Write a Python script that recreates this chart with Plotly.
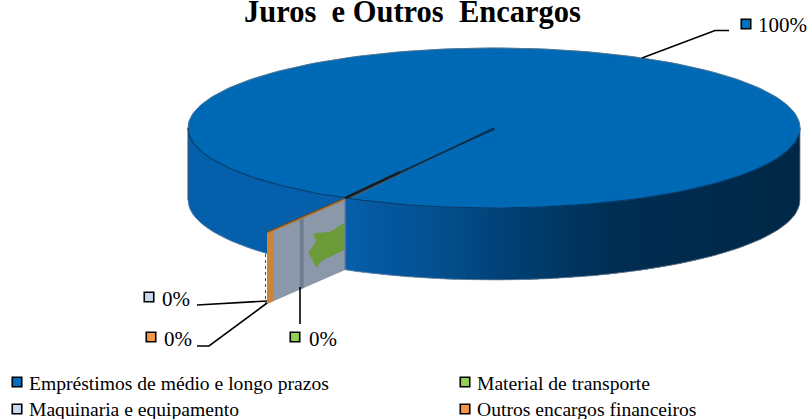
import math
import plotly.graph_objects as go

categories = ["Empréstimos de médio e longo prazos", "Material de transporte",
              "Maquinaria e equipamento", "Outros encargos financeiros"]
shares = [99.7, 0.1, 0.1, 0.1]
marker_colors = ["#0070c0", "#92d050", "#c6d9f1", "#f79646"]
title_text = "Juros\u00a0\u00a0e Outros\u00a0\u00a0Encargos"

W, H = 812, 419
CX, CY, RX, RY, DEPTH = 494, 128, 306, 80, 72
APEX = (495, 129)
RIM_PT = (345, 198)
TIP = (267, 232)
TOP_COLOR = "#0069b6"
GAP_COLOR = "#1a2a3a"

fig = go.Figure()


def poly(xs, ys, color, line=None, lw=0):
    fig.add_trace(go.Scatter(x=xs, y=ys, mode="lines", fill="toself", fillcolor=color,
                             line=dict(color=line or color, width=lw),
                             hoverinfo="skip", showlegend=False))


def stroke(xs, ys, color="#000000", w=1.6, dash=None):
    fig.add_trace(go.Scatter(x=xs, y=ys, mode="lines", line=dict(color=color, width=w, dash=dash),
                             hoverinfo="skip", showlegend=False))


def mix(a, b, t):
    return "rgb(%d,%d,%d)" % tuple(round(a[i] + (b[i] - a[i]) * t) for i in range(3))


def rim(theta):
    return CX + RX * math.cos(theta), CY + RY * math.sin(theta)


# Side wall: lower half of the ellipse, shaded toward the right
SIDE_STOPS = [(0.0, (5, 96, 172)), (0.25, (5, 95, 170)), (0.40, (4, 80, 145)),
              (0.54, (0, 62, 112)), (0.70, (0, 45, 82)), (1.0, (0, 40, 70))]


def side_color(frac):
    for (f0, c0), (f1, c1) in zip(SIDE_STOPS, SIDE_STOPS[1:]):
        if frac <= f1:
            return mix(c0, c1, (frac - f0) / (f1 - f0))
    return mix(SIDE_STOPS[-1][1], SIDE_STOPS[-1][1], 0)


N = 140
for i in range(N):
    a0 = math.pi * (1 - i / N)
    a1 = math.pi * (1 - (i + 2.5) / N)
    x0, y0 = rim(a0)
    frac = (x0 + 1.1 - (CX - RX)) / (2 * RX)
    c = side_color(frac)
    steps_q = 4
    arc = [rim(a0 + (max(a1, 0) - a0) * k / steps_q) for k in range(steps_q + 1)]
    px = [p[0] for p in arc] + [p[0] for p in reversed(arc)] + [arc[0][0]]
    py = [p[1] for p in arc] + [p[1] + DEPTH for p in reversed(arc)] + [arc[0][1]]
    poly(px, py, c)

# Top face: one wedge per share, swept from the cut angle
total = sum(shares)
cut = math.atan2((RIM_PT[1] - CY) / RY, (RIM_PT[0] - CX) / RX)
start = cut
for idx, s in enumerate(shares):
    sweep = 2 * math.pi * s / total
    steps = 240 if idx == 0 else 2
    pts = [rim(start + sweep * i / steps) for i in range(steps + 1)]
    color = TOP_COLOR if idx == 0 else GAP_COLOR
    poly([CX] + [p[0] for p in pts] + [CX], [CY] + [p[1] for p in pts] + [CY], color, color, 0.6)
    start += sweep

# Rim lines: darker on the front edge, faint on the back edge
fx, fy = zip(*[rim(math.pi * (1 - i / 120)) for i in range(121)])
stroke(list(fx), list(fy), "#063a66", 1.1)
bx, by = zip(*[rim(math.pi * (1 + i / 120)) for i in range(121)])
stroke(list(bx), list(by), "#5b7188", 0.8)
# Silhouette of the lower edge
stroke(list(fx), [y + DEPTH for y in fy], "#8a97a5", 0.7)
stroke([CX - RX] * 2, [CY, CY + DEPTH], "#3d4d5e", 1)
stroke([CX + RX] * 2, [CY, CY + DEPTH], "#6f7d8c", 0.8)


# Cut wall of the pulled-out thin slices, in (u along the radius, v down) coordinates
def wall(u, v):
    return (RIM_PT[0] + (TIP[0] - RIM_PT[0]) * u,
            RIM_PT[1] + (TIP[1] - RIM_PT[1]) * u + v * DEPTH)


def wall_poly(corners, color, line=None, lw=0):
    pts = [wall(u, v) for u, v in corners]
    poly([p[0] for p in pts] + [pts[0][0]], [p[1] for p in pts] + [pts[0][1]], color, line, lw)


wall_poly([(0, 0), (1, 0), (1, 1), (0, 1)], "#8b98aa")
wall_poly([(0.53, 0), (0.58, 0), (0.58, 1), (0.53, 1)], "#6f7d90")
wall_poly([(0.92, 0), (1, 0), (1, 1), (0.92, 1)], "#cc8438")
blob = [(0, 0.34), (0.19, 0.38), (0.41, 0.30), (0.37, 0.43), (0.47, 0.53), (0.37, 0.79),
        (0.29, 0.73), (0, 0.72)]
wall_poly(blob, "#6b9a38")
wall_poly([(0, 0), (1, 0), (1, 0.03), (0, 0.03)], "#b07a3c")
stroke([TIP[0] - 1.5] * 2, [TIP[1] + 16, TIP[1] + DEPTH], "#444444", 1, "dot")
stroke([RIM_PT[0]] * 2, [RIM_PT[1], RIM_PT[1] + DEPTH], "#6f7d90", 1.5)

# Radial line across the top
stroke([APEX[0], 400], [APEX[1], 172], "#06304f", 1.2)
stroke([400, RIM_PT[0]], [172, RIM_PT[1]], "#1a1a1a", 2.2)
stroke([RIM_PT[0], TIP[0]], [RIM_PT[1], TIP[1]], "#5a4a30", 1.2)

# Leader lines
stroke([642, 715, 729], [58, 30.5, 30.5])
stroke([197, 267], [305, 301])
stroke([197, 209, 267], [346, 346, 303])
stroke([300, 300], [287, 324])


def label(x_m, y_m, x_t, y_t, text, color, size):
    fig.add_trace(go.Scatter(x=[x_m], y=[y_m], mode="markers",
                             marker=dict(symbol="square", size=9.5, color=color,
                                         line=dict(color="#000000", width=1.6)),
                             hoverinfo="skip", showlegend=False))
    fig.add_annotation(x=x_t, y=y_t, text=text, showarrow=False, xanchor="left", yanchor="middle",
                       font=dict(family="Liberation Serif", size=size, color="#000000"),
                       borderpad=0, borderwidth=0)


pct = [f"{round(s / total * 100)}%" for s in shares]
label(746, 24, 758, 25, pct[0], marker_colors[0], 21)
label(295, 337, 309, 339, pct[1], marker_colors[1], 21)
label(149, 297, 162, 299, pct[2], marker_colors[2], 21)
label(151, 337, 164, 339, pct[3], marker_colors[3], 21)

label(17, 382, 29, 383, categories[0], marker_colors[0], 19.6)
label(465, 382, 477, 383, categories[1], marker_colors[1], 19.6)
label(17, 409, 29, 409, categories[2], marker_colors[2], 19.6)
label(465, 409, 477, 409, categories[3], marker_colors[3], 19.6)

fig.add_annotation(x=412.5, y=12, text=f"<b>{title_text}</b>", showarrow=False,
                   xanchor="center", yanchor="middle",
                   font=dict(family="Liberation Serif", size=30.5, color="#000000"))

fig.update_layout(width=W, height=H, margin=dict(l=0, r=0, t=0, b=0),
                  paper_bgcolor="white", plot_bgcolor="white",
                  xaxis=dict(range=[0, W], visible=False, fixedrange=True),
                  yaxis=dict(range=[H, 0], visible=False, fixedrange=True))
fig.write_html("out.html", config={"displayModeBar": False},
               post_script="document.body.style.margin='0';document.documentElement.style.overflow='hidden';")
